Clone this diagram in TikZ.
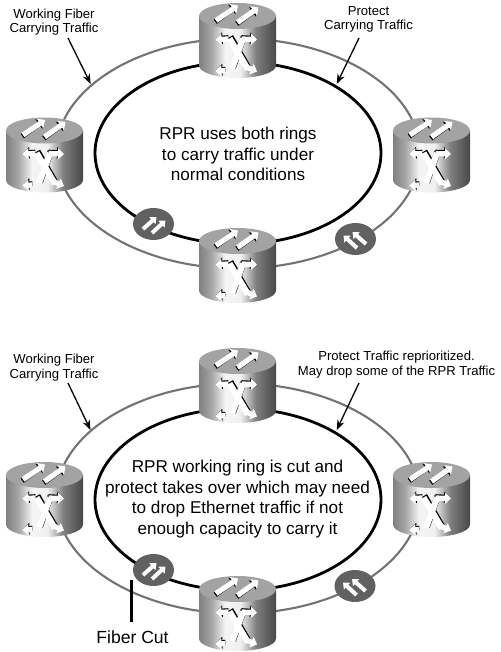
\documentclass[tikz,border=0pt]{standalone}
\usepackage{fontspec}
\setmainfont{Liberation Sans}
\usetikzlibrary{arrows.meta}
\pgfdeclarehorizontalshading{bodyshade}{100bp}{
 color(0bp)=(black!50!white);
 color(25bp)=(black!50!white);
 color(33bp)=(black!35!white);
 color(42bp)=(black!4!white);
 color(52bp)=(black!6!white);
 color(62bp)=(black!50!white);
 color(75bp)=(black!72!white);
 color(100bp)=(black!72!white)}
\tikzset{
 x=0.02cm,y=-0.02cm,
 ringp/.style={draw=black!55,line width=0.42mm},
 ringb/.style={draw=black,line width=0.56mm},
 lab/.style={font=\fontsize{7.45pt}{8.2pt}\selectfont,align=center,inner sep=0pt},
 big/.style={font=\fontsize{9.75pt}{11.7pt}\selectfont,align=center,inner sep=0pt},
 ptr/.style={draw=black,line width=0.26mm,-{Stealth[length=2mm,width=1.5mm]}},
 wh/.style={draw=white,line width=1.05mm,-{Triangle[length=1.2mm,width=2.2mm]}},
 wh2/.style={draw=white,line width=1.25mm},
 sh/.style={draw=black,line width=1.05mm,-{Triangle[length=1.2mm,width=2.3mm]}},
 sh2/.style={draw=black,line width=1.25mm},
 routerbox/.style={minimum width=1.54cm,minimum height=1.5cm,inner sep=0pt},
 pics/router/.style={code={
  \path[shade,shading=bodyshade,draw=none] (-38.5,-24.5) -- (38.5,-24.5) -- (38.5,25) arc[start angle=0,end angle=180,x radius=38.5,y radius=12.5] -- cycle;
  \path[fill=black!36] (0,-24.5) ellipse[x radius=38.5,y radius=13];
  % upper arrows
  \draw[sh] (-22.2,-18.8) -- (-0.7,-34.5);
  \draw[wh] (-21.5,-20) -- (0.5,-35);
  \draw[sh] (-0.7,-16.8) -- (19.8,-32);
  \draw[wh] (0,-18) -- (21,-33);
  % crossing
  \begin{scope}[shift={(0.8,-0.8)}]
  \draw[sh2] (-8,-3) -- (10.5,29);
  \draw[sh2] (5.5,-3) -- (-5.5,28);
  \end{scope}
  \draw[sh] (-9,-2.7) -- (-21,-1.9);
  \draw[sh] (4,-2.7) -- (18.5,-1.9);
  \draw[wh] (-9,-1.5) -- (-22,-1);
  \draw[wh] (4,-1.5) -- (19.5,-1);
  \draw[wh2] (-8,-2) -- (10.5,29);
  \draw[wh2] (5.5,-2) -- (-5.5,28);
  \draw[sh] (-12,29) -- (-21,29.4);
  \draw[wh] (-12,30) -- (-22,30.5);
  \draw[wh] (9,26.5) -- (19.5,31);
 }},
 pics/pass/.style={code={
  \path[fill=black!62] (0,0) ellipse[x radius=20.5,y radius=16];
  \draw[white,line width=0.8mm,-{Triangle[length=1.1mm,width=1.8mm]}] (#1*-10.5,5) -- (#1*3,-7);
  \draw[white,line width=0.8mm,-{Triangle[length=1.1mm,width=1.8mm]}] (#1*-1.5,9) -- (#1*12,-3.5);
 }},
}
\begin{document}
\begin{tikzpicture}
\useasboundingbox (0,0) rectangle (500,652);
% top diagram rings
\path[ringp] (238,153.5) ellipse[x radius=182,y radius=115];
\path[ringb] (238,153) ellipse[x radius=143,y radius=91];
% bottom diagram rings
\path[ringp] (238,498.5) ellipse[x radius=182,y radius=115];
\path[ringb] (238,499.5) ellipse[x radius=143,y radius=91];
% routers
\node[routerbox] (a1) at (237.5,40.5) {};
\node[routerbox] (a2) at (44.5,155) {};
\node[routerbox] (a3) at (431.5,155) {};
\node[routerbox] (a4) at (237.5,265.5) {};
\node[routerbox] (b1) at (237.5,385.5) {};
\node[routerbox] (b2) at (44.5,499.5) {};
\node[routerbox] (b3) at (431.5,499.5) {};
\node[routerbox] (b4) at (237.5,613.5) {};
\foreach \n in {a1,a2,a3,a4,b1,b2,b3,b4}{\pic at (\n) {router};}
\pic at (153.5,224) {pass=1};
\pic at (355.5,239) {pass=-1};
\pic at (153.5,570) {pass=1};
\pic at (355,586) {pass=-1};
% labels
\node[lab] (t1) at (54,22) {Working Fiber\\Carrying Traffic};
\node[lab] (t2) at (368.5,19.5) {Protect\\Carrying Traffic};
\node[big] (t3) at (238,154) {RPR uses both rings\\to carry traffic under\\normal conditions};
\node[lab] (t4) at (54,367.5) {Working Fiber\\Carrying Traffic};
\node[lab] (t5) at (396.5,364.5) {Protect Traffic reprioritized.\\May drop some of the RPR Traffic};
\node[big] (t6) at (237.5,499) {RPR working ring is cut and\\protect takes over which may need\\to drop Ethernet traffic if not\\enough capacity to carry it};
\node[font=\fontsize{10pt}{12pt}\selectfont,inner sep=0pt] (t7) at (132.5,637) {Fiber Cut};
% pointers
\coordinate (q1) at (68,38);   \coordinate (p1) at (90.7,84);
\coordinate (q2) at (359,38);  \coordinate (p2) at (336.7,84);
\coordinate (q3) at (68,383);  \coordinate (p3) at (90.5,430);
\coordinate (q4) at (359,383); \coordinate (p4) at (336.7,430);
\coordinate (cutA) at (131.7,580);
\coordinate (cutB) at (131.7,622);
\draw[ptr] (q1) -- (p1);
\draw[ptr] (q2) -- (p2);
\draw[ptr] (q3) -- (p3);
\draw[ptr] (q4) -- (p4);
\draw[black,line width=0.55mm] (cutA) -- (cutB);
\end{tikzpicture}
\end{document}
